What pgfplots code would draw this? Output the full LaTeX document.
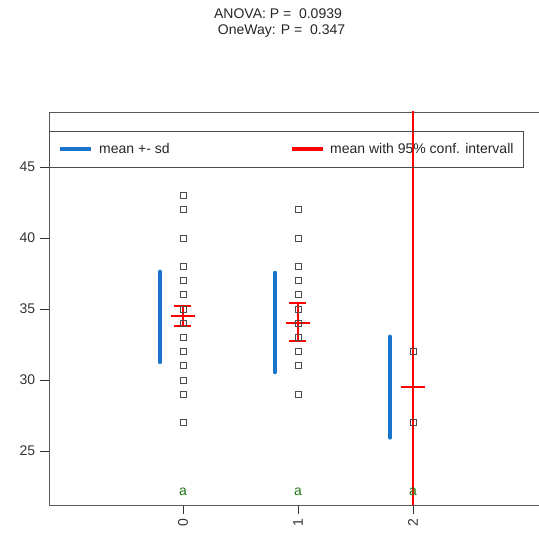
\documentclass[border=0pt]{standalone}
\usepackage{pgfplots}
\pgfplotsset{compat=1.18}
\usepackage{fontspec}
\setmainfont{Liberation Sans}
\definecolor{sdblue}{RGB}{24,116,205}
\definecolor{letgreen}{RGB}{30,120,20}
\begin{document}
\fontsize{14bp}{16bp}\selectfont
\begin{tikzpicture}
\path[use as bounding box] (-49bp,-30bp) rectangle (490bp,505bp);
\begin{axis}[
 at={(0,0)}, anchor=south west,
 scale only axis, width=497.95bp, height=393bp,
 xmin=-1.165, xmax=3.165, ymin=21.197, ymax=48.873,
 xtick={0,1,2}, ytick={25,30,35,40,45},
 xtick pos=left, ytick pos=left,
 tick align=outside, major tick length=9bp,
 axis line style={black!65, line width=0.8bp},
 tick style={black!80, line width=0.8bp},
 xticklabel style={rotate=90, anchor=east, font=\fontsize{14bp}{16bp}\selectfont, text=black!80},
 yticklabel style={font=\fontsize{14bp}{16bp}\selectfont, text=black!80},
 /pgf/number format/assume math mode=true,
 clip=true,
]
% raw observations
\addplot[only marks, mark=square, mark size=3bp, draw=black!70, line width=0.7bp]
 coordinates {(0,43) (0,42) (0,40) (0,38) (0,37) (0,36) (0,35) (0,34) (0,33) (0,32) (0,31) (0,30) (0,29) (0,27)};
\addplot[only marks, mark=square, mark size=3bp, draw=black!70, line width=0.7bp]
 coordinates {(1,42) (1,40) (1,38) (1,37) (1,36) (1,35) (1,34) (1,33) (1,32) (1,31) (1,29)};
\addplot[only marks, mark=square, mark size=3bp, draw=black!70, line width=0.7bp]
 coordinates {(2,32) (2,27)};
% mean +- sd
\addplot[sdblue, line width=4.5bp, line cap=round] coordinates {(-0.2,31.27) (-0.2,37.61)};
\addplot[sdblue, line width=4.5bp, line cap=round] coordinates {(0.8,30.56) (0.8,37.54)};
\addplot[sdblue, line width=4.5bp, line cap=round] coordinates {(1.8,25.96) (1.8,33.04)};
% mean with 95% CI
\addplot[red, line width=2bp, mark=none] coordinates {(0,33.80) (0,35.21)};
\addplot[red, line width=2bp, mark=none] coordinates {(-0.074,33.80) (0.074,33.80)};
\addplot[red, line width=2bp, mark=none] coordinates {(-0.074,35.21) (0.074,35.21)};
\addplot[red, line width=2.5bp, mark=none] coordinates {(-0.104,34.51) (0.104,34.51)};
\addplot[red, line width=2bp, mark=none] coordinates {(1,32.75) (1,35.42)};
\addplot[red, line width=2bp, mark=none] coordinates {(0.926,32.75) (1.074,32.75)};
\addplot[red, line width=2bp, mark=none] coordinates {(0.926,35.42) (1.074,35.42)};
\addplot[red, line width=2.5bp, mark=none] coordinates {(0.896,34.01) (1.104,34.01)};
\addplot[red, line width=2bp, mark=none] coordinates {(2,-2.27) (2,61.27)};
\addplot[red, line width=2.5bp, mark=none] coordinates {(1.896,29.5) (2.104,29.5)};
% group letters
\node[text=letgreen, font=\fontsize{14bp}{16bp}\selectfont] at (axis cs:0,22.1) {a};
\node[text=letgreen, font=\fontsize{14bp}{16bp}\selectfont] at (axis cs:1,22.1) {a};
\node[text=letgreen, font=\fontsize{14bp}{16bp}\selectfont] at (axis cs:2,22.1) {a};
% legend
\draw[black!70, line width=0.8bp] (axis cs:-1.165,45.0) rectangle (axis cs:2.957,47.535);
\draw[sdblue, line width=3.5bp] (axis cs:-1.07,46.27) -- (axis cs:-0.80,46.27);
\node[anchor=west, inner sep=0pt, text=black!85] at (axis cs:-0.73,46.27) {mean +- sd};
\draw[red, line width=3.5bp] (axis cs:0.948,46.27) -- (axis cs:1.217,46.27);
\node[anchor=west, inner sep=0pt, text=black!85] at (axis cs:1.278,46.27) {mean with 95\% conf. intervall};
\end{axis}
\node[text=black!85] at (229bp,491bp) {ANOVA: P =\ \ 0.0939};
\node[text=black!85] at (232.5bp,474bp) {OneWay: P =\ \ 0.347};
\end{tikzpicture}
\end{document}
